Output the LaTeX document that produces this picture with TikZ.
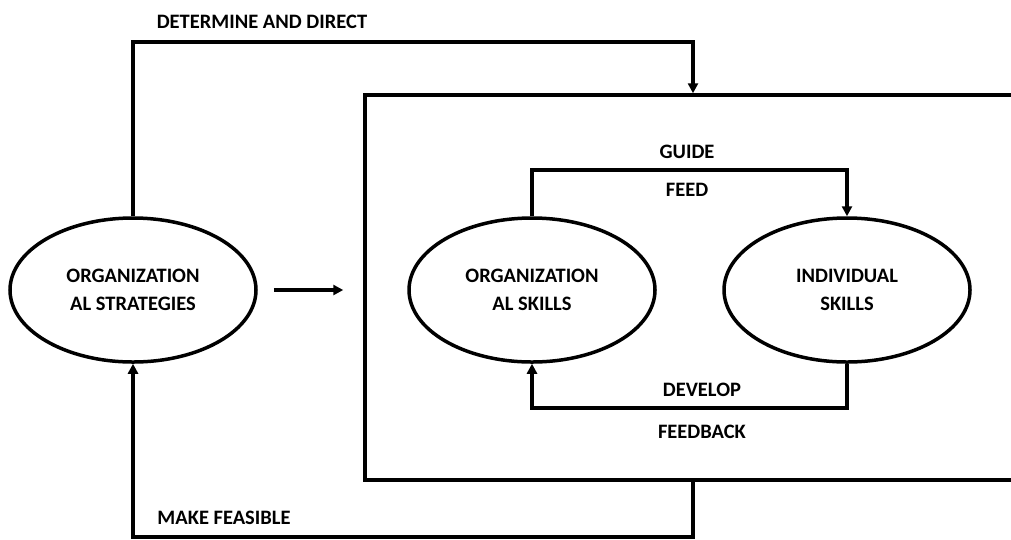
\documentclass[tikz,border=0pt]{standalone}
\usepackage{fontspec}
\setmainfont{Carlito}
\usetikzlibrary{shapes.geometric,arrows.meta}
\begin{document}
\begin{tikzpicture}[x=1pt,y=-1pt,
  lbl/.style={font=\fontsize{20.5}{24}\selectfont\bfseries, inner sep=0pt},
  oval/.style={ellipse, draw, line width=3.5pt, minimum width=246pt, minimum height=144pt, inner sep=0pt, align=center, font=\fontsize{20.5}{28}\selectfont\bfseries},
  conn/.style={line width=3.5pt, -{Triangle[length=10pt,width=10pt]}}]
\useasboundingbox (0,0) rectangle (1011,539);
\node[draw, line width=3.5pt, minimum width=665pt, minimum height=385pt, inner sep=0pt] (R) at (697.5,287.5) {};
\node[oval] (L) at (133,290) {ORGANIZATION\\AL STRATEGIES};
\node[oval] (M) at (532,290) {ORGANIZATION\\AL SKILLS};
\node[oval] (I) at (847,290) {INDIVIDUAL\\SKILLS};
\draw[conn, shorten <=16pt, shorten >=20pt] (L.east) -- (R.west |- L.east);
\coordinate (dt) at (693,42);
\draw[conn] (L.north) |- (dt) -- (dt |- R.north);
\coordinate (mf) at (693,537);
\draw[conn] (mf |- R.south) -- (mf) -| (L.south);
\coordinate (gl) at (532,170);
\draw[conn] (M.north) -- (gl) -| (I.north);
\coordinate (dl) at (847,408);
\draw[conn] (I.south) -- (dl) -| (M.south);
\node[lbl] (t1) at (262,22) {DETERMINE AND DIRECT};
\node[lbl] (t2) at (224,518) {MAKE FEASIBLE};
\node[lbl] (t3) at (687,152) {GUIDE};
\node[lbl] (t4) at (687,190) {FEED};
\node[lbl] (t5) at (702,390) {DEVELOP};
\node[lbl] (t6) at (702,432) {FEEDBACK};
\end{tikzpicture}
\end{document}
